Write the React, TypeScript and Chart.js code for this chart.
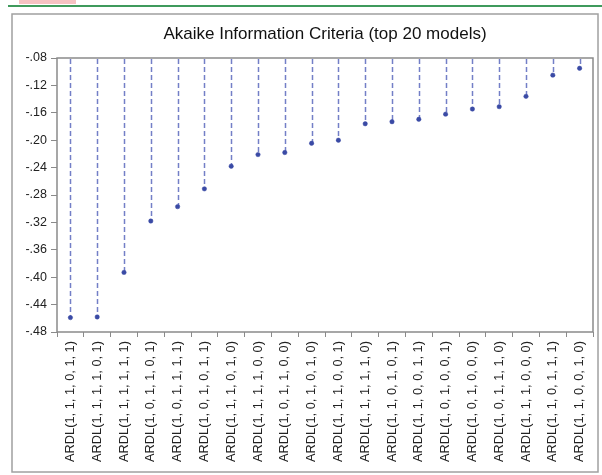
import React, { useEffect, useRef } from "react";
import { Chart, registerables } from "chart.js";

Chart.register(...registerables);

const modelLabels = [
  "ARDL(1, 1, 1, 0, 1, 1)",
  "ARDL(1, 1, 1, 1, 0, 1)",
  "ARDL(1, 1, 1, 1, 1, 1)",
  "ARDL(1, 0, 1, 1, 0, 1)",
  "ARDL(1, 0, 1, 1, 1, 1)",
  "ARDL(1, 0, 1, 0, 1, 1)",
  "ARDL(1, 1, 1, 0, 1, 0)",
  "ARDL(1, 1, 1, 1, 0, 0)",
  "ARDL(1, 0, 1, 1, 0, 0)",
  "ARDL(1, 0, 1, 0, 1, 0)",
  "ARDL(1, 1, 1, 0, 0, 1)",
  "ARDL(1, 1, 1, 1, 1, 0)",
  "ARDL(1, 1, 0, 1, 0, 1)",
  "ARDL(1, 1, 0, 0, 1, 1)",
  "ARDL(1, 0, 1, 0, 0, 1)",
  "ARDL(1, 0, 1, 0, 0, 0)",
  "ARDL(1, 0, 1, 1, 1, 0)",
  "ARDL(1, 1, 1, 0, 0, 0)",
  "ARDL(1, 1, 0, 1, 1, 1)",
  "ARDL(1, 1, 0, 0, 1, 0)",
];

const aicValues = [
  -0.459, -0.458, -0.393, -0.318, -0.297, -0.271, -0.238, -0.221, -0.218,
  -0.2045, -0.2, -0.176, -0.173, -0.1695, -0.162, -0.1545, -0.151, -0.136,
  -0.105, -0.095,
];

const yTickValues = [
  -0.48, -0.44, -0.4, -0.36, -0.32, -0.28, -0.24, -0.2, -0.16, -0.12, -0.08,
];

const chartTitle = "Akaike Information Criteria (top 20 models)";

const decorPlugin = {
  id: "decor",
  beforeDraw(chart: any) {
    const ctx = chart.ctx;
    ctx.save();
    ctx.fillStyle = "#ffffff";
    ctx.fillRect(0, 0, chart.width, chart.height);
    // pink strip at top
    ctx.fillStyle = "#f6c2c2";
    ctx.fillRect(19, 0, 57, 4);
    // green rule
    ctx.strokeStyle = "#3f9a5c";
    ctx.lineWidth = 2;
    ctx.beginPath();
    ctx.moveTo(8, 6);
    ctx.lineTo(602, 6);
    ctx.stroke();
    // outer frame
    ctx.strokeStyle = "#a0a0a0";
    ctx.lineWidth = 1.5;
    ctx.strokeRect(12, 14, 586, 458);
    ctx.restore();
  },
  beforeDatasetsDraw(chart: any) {
    const ctx = chart.ctx;
    const xs = chart.scales.x;
    const ys = chart.scales.y;
    const top = chart.chartArea.top;
    ctx.save();
    ctx.strokeStyle = "rgba(80,95,185,0.8)";
    ctx.lineWidth = 1.5;
    ctx.setLineDash([5, 3]);
    aicValues.forEach((v, i) => {
      const x = Math.round(xs.getPixelForValue(i)) + 0.5;
      const y = ys.getPixelForValue(v);
      ctx.beginPath();
      ctx.moveTo(x, top + 1);
      ctx.lineTo(x, y);
      ctx.stroke();
    });
    ctx.restore();
  },
  afterDraw(chart: any) {
    const ctx = chart.ctx;
    const a = chart.chartArea;
    ctx.save();
    ctx.strokeStyle = "#8a8a8a";
    ctx.lineWidth = 1.5;
    ctx.strokeRect(a.left, a.top, a.right - a.left, a.bottom - a.top);
    ctx.restore();
  },
};

export default function App() {
  const ref = useRef<HTMLCanvasElement | null>(null);

  useEffect(() => {
    if (!ref.current) return;
    const chart = new Chart(ref.current, {
      type: "line",
      data: {
        labels: modelLabels,
        datasets: [
          {
            data: aicValues,
            showLine: false,
            pointRadius: 2.2,
            pointHoverRadius: 2.2,
            pointBackgroundColor: "#3a4aa5",
            pointBorderColor: "#3a4aa5",
            pointBorderWidth: 0.5,
          },
        ],
      },
      options: {
        responsive: false,
        animation: false,
        devicePixelRatio: 1,
        layout: { padding: { left: 0, right: 9, top: 0, bottom: 0 } },
        plugins: {
          legend: { display: false },
          tooltip: { enabled: false },
          title: {
            display: true,
            fullSize: false,
            text: chartTitle,
            color: "#111111",
            font: { family: "Liberation Sans, Arial, sans-serif", size: 17, weight: "normal" },
            padding: { top: 23.8, bottom: 13.8 },
          },
        },
        scales: {
          x: {
            type: "category",
            offset: true,
            grid: {
              display: true,
              offset: true,
              drawOnChartArea: false,
              drawTicks: true,
              tickLength: 5,
              color: "#8a8a8a",
              lineWidth: 1,
            },
            border: { display: false },
            ticks: {
              minRotation: 90,
              maxRotation: 90,
              autoSkip: false,
              padding: 4,
              color: "#222222",
              font: { family: "Liberation Sans, Arial, sans-serif", size: 12.8 },
            },
            afterFit(scale: any) {
              scale.height = 143;
            },
          },
          y: {
            type: "linear",
            min: -0.48,
            max: -0.08,
            grid: {
              display: true,
              drawOnChartArea: false,
              drawTicks: true,
              tickLength: 6,
              color: "#8a8a8a",
            },
            border: { display: false },
            afterBuildTicks(scale: any) {
              scale.ticks = yTickValues.map((v) => ({ value: v }));
            },
            ticks: {
              padding: 4,
              color: "#222222",
              font: { family: "Liberation Sans, Arial, sans-serif", size: 12.5 },
              callback: (v: any) => Number(v).toFixed(2).replace("0.", "."),
            },
            afterFit(scale: any) {
              scale.width = 57;
            },
          },
        },
      },
      plugins: [decorPlugin],
    });
    return () => chart.destroy();
  }, []);

  return (
    <div style={{ position: "absolute", left: 0, top: 0, width: 602, height: 475 }}>
      <canvas ref={ref} width={602} height={475} style={{ display: "block" }} />
    </div>
  );
}
